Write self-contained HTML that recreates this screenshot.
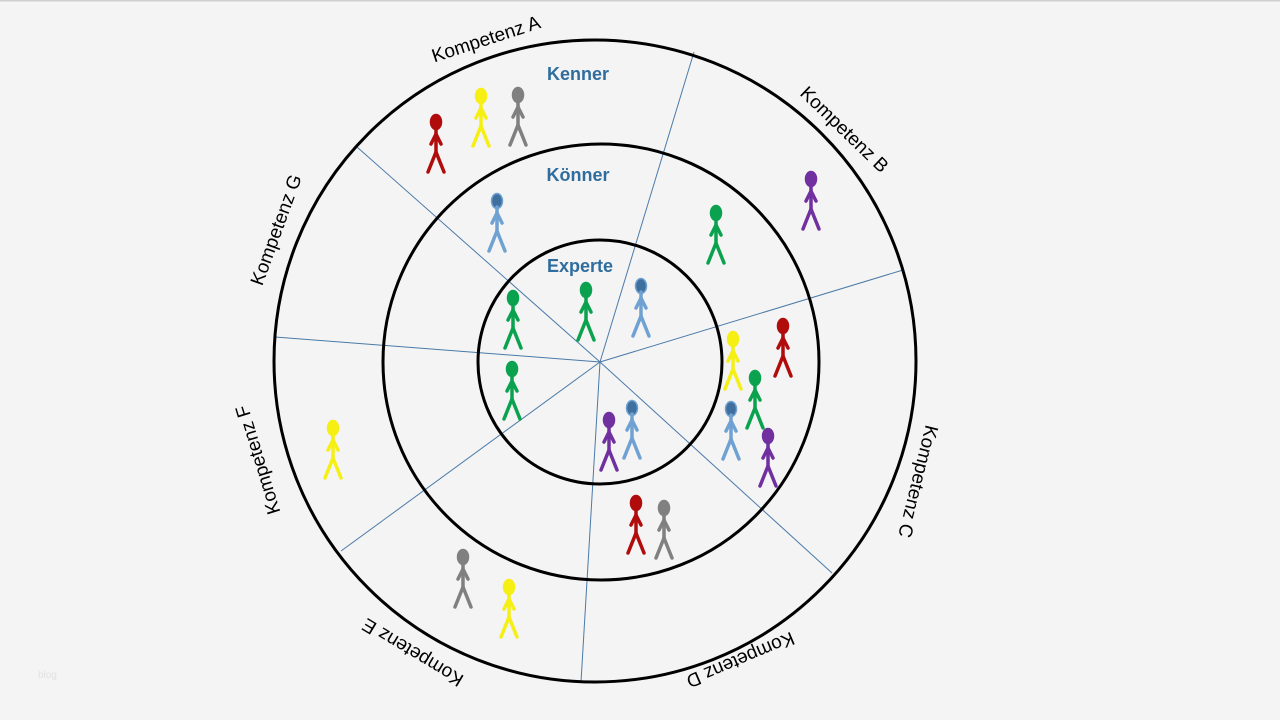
<!DOCTYPE html>
<html><head><meta charset="utf-8"><style>
html,body{margin:0;padding:0;background:#f4f4f4;}
svg{display:block;}
</style></head><body>
<svg width="1280" height="720" viewBox="0 0 1280 720" xmlns="http://www.w3.org/2000/svg">
<rect x="0" y="0" width="1280" height="720" fill="#f4f4f4"/>
<rect x="0" y="0" width="1280" height="1.5" fill="#cfcfcf"/>
<defs>
<g id="fig" stroke-width="3.5" stroke-linecap="round" stroke-linejoin="round">
<ellipse cx="0" cy="0" rx="5.5" ry="7.5" stroke-width="1.5"/>
<line x1="0" y1="6" x2="0" y2="30" fill="none"/>
<path d="M-5,22 L0,12 L5,22" fill="none"/>
<path d="M-8,50 L0,30 L8,50" fill="none"/>
</g>
</defs>
<g stroke="#4a7aa8" stroke-width="1">
<line x1="600" y1="362" x2="694" y2="52"/>
<line x1="600" y1="362" x2="903" y2="270"/>
<line x1="600" y1="362" x2="832" y2="573"/>
<line x1="600" y1="362" x2="581" y2="682"/>
<line x1="600" y1="362" x2="341" y2="551"/>
<line x1="600" y1="362" x2="275" y2="337"/>
<line x1="600" y1="362" x2="357" y2="147"/>
</g>
<g fill="none" stroke="#000" stroke-width="3">
<circle cx="595" cy="361" r="321"/>
<circle cx="601" cy="362" r="218"/>
<circle cx="600" cy="362" r="122"/>
</g>
<g font-family="Liberation Sans, sans-serif" font-weight="bold" font-size="18" fill="#2e6d9e" text-anchor="middle">
<text x="578" y="80">Kenner</text>
<text x="578" y="181">Könner</text>
<text x="580" y="272">Experte</text>
</g>
<g font-family="Liberation Sans, sans-serif" font-size="19" fill="#000" text-anchor="middle">
<text transform="translate(488,45) rotate(-18)">Kompetenz A</text>
<text transform="translate(840,134) rotate(44)">Kompetenz B</text>
<text transform="translate(912,480) rotate(104)">Kompetenz C</text>
<text transform="translate(738,654) rotate(157)">Kompetenz D</text>
<text transform="translate(416,647) rotate(-149)">Kompetenz E</text>
<text transform="translate(264,458) rotate(-107)">Kompetenz F</text>
<text transform="translate(282,232) rotate(-70)">Kompetenz G</text>
</g>
<g>
<use href="#fig" x="436" y="122" stroke="#b00c0c" fill="#b00c0c"/>
<use href="#fig" x="481" y="96" stroke="#f5ef14" fill="#f5ef14"/>
<use href="#fig" x="518" y="95" stroke="#808080" fill="#808080"/>
<use href="#fig" x="497" y="201" stroke="#6fa1d2" fill="#3f6f9e"/>
<use href="#fig" x="716" y="213" stroke="#0aa24f" fill="#0aa24f"/>
<use href="#fig" x="811" y="179" stroke="#7030a0" fill="#7030a0"/>
<use href="#fig" x="513" y="298" stroke="#0aa24f" fill="#0aa24f"/>
<use href="#fig" x="586" y="290" stroke="#0aa24f" fill="#0aa24f"/>
<use href="#fig" x="641" y="286" stroke="#6fa1d2" fill="#3f6f9e"/>
<use href="#fig" x="733" y="339" stroke="#f5ef14" fill="#f5ef14"/>
<use href="#fig" x="783" y="326" stroke="#b00c0c" fill="#b00c0c"/>
<use href="#fig" x="755" y="378" stroke="#0aa24f" fill="#0aa24f"/>
<use href="#fig" x="731" y="409" stroke="#6fa1d2" fill="#3f6f9e"/>
<use href="#fig" x="768" y="436" stroke="#7030a0" fill="#7030a0"/>
<use href="#fig" x="512" y="369" stroke="#0aa24f" fill="#0aa24f"/>
<use href="#fig" x="609" y="420" stroke="#7030a0" fill="#7030a0"/>
<use href="#fig" x="632" y="408" stroke="#6fa1d2" fill="#3f6f9e"/>
<use href="#fig" x="636" y="503" stroke="#b00c0c" fill="#b00c0c"/>
<use href="#fig" x="664" y="508" stroke="#808080" fill="#808080"/>
<use href="#fig" x="333" y="428" stroke="#f5ef14" fill="#f5ef14"/>
<use href="#fig" x="463" y="557" stroke="#808080" fill="#808080"/>
<use href="#fig" x="509" y="587" stroke="#f5ef14" fill="#f5ef14"/>
</g>
<text x="38" y="678" font-family="Liberation Sans, sans-serif" font-size="10" fill="#e2e2e2">blog</text>
</svg>
</body></html>
